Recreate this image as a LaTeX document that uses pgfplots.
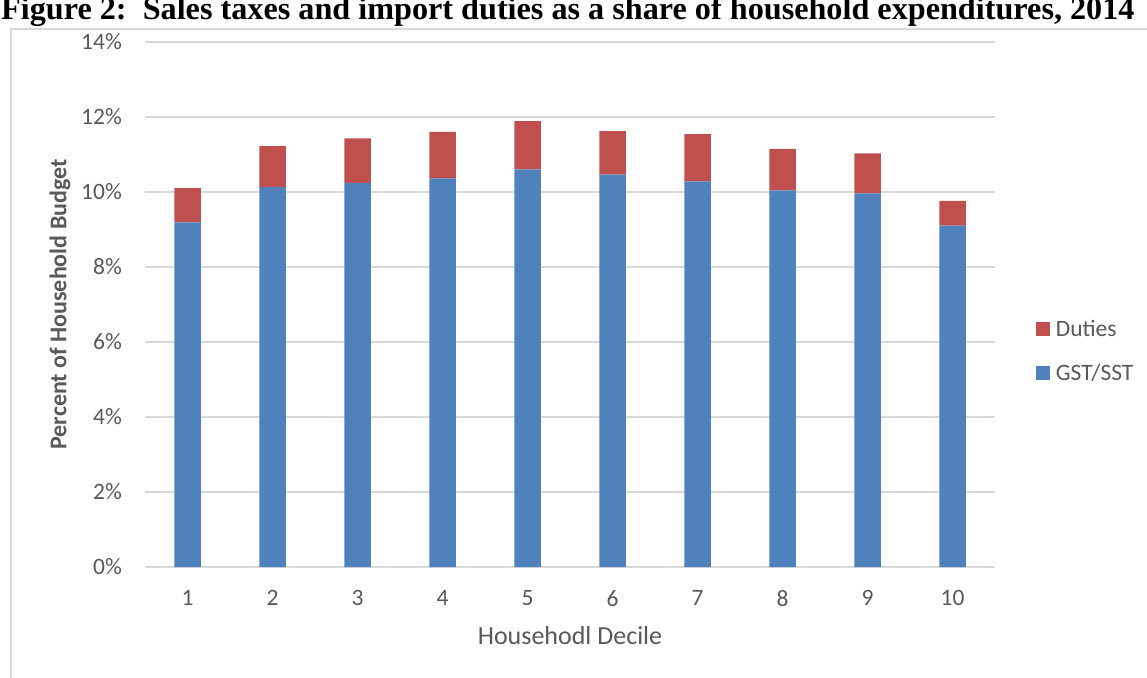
\documentclass[border=0pt]{standalone}
\usepackage{pgfplots}
\pgfplotsset{compat=1.18}
\usepackage{fontspec}
\setmainfont{Carlito}
\newfontfamily\titlefont{Liberation Serif}
\definecolor{gstblue}{HTML}{4F81BD}
\definecolor{dutyred}{HTML}{C0504D}
\definecolor{txtgray}{HTML}{595959}
\definecolor{gridgray}{HTML}{D9D9D9}
\begin{document}
\begin{tikzpicture}[x=1pt,y=1pt]
\useasboundingbox (0,0) rectangle (1147,677);
\clip (0,0) rectangle (1147,677);
\draw[gridgray, line width=1.5pt] (11,-5) -- (11,648) -- (1160,648);
\node[anchor=base west, inner sep=0pt, font=\titlefont\bfseries\fontsize{32.2}{32}\selectfont] at (1,657) {Figure 2:\ \ Sales taxes and import duties as a share of household expenditures, 2014};
\begin{axis}[
  at={(145pt,110pt)}, anchor=south west,
  scale only axis, width=850pt, height=525pt,
  xmin=0.5, xmax=10.5, ymin=0, ymax=14,
  ybar stacked, bar width=26.5pt,
  xtick={1,...,10}, ytick={0,2,...,14},
  yticklabel={\pgfmathprintnumber{\tick}\%},
  /pgf/number format/assume math mode=true,
  axis line style={draw=none},
  major tick length=0pt,
  ymajorgrids, grid style={gridgray, line width=1.3pt},
  tick label style={font=\fontsize{23.5}{23.5}\selectfont, text=txtgray},
  yticklabel style={inner sep=0pt, anchor=east, xshift=-23pt},
  xticklabel style={inner sep=0pt, anchor=north, yshift=-23.5pt},
  xlabel={Househodl Decile},
  ylabel={\bfseries Percent of Household Budget},
  xlabel style={font=\fontsize{26}{26}\selectfont, text=txtgray, at={(axis description cs:0.5,-0.131)}, anchor=center},
  ylabel style={font=\fontsize{24}{24}\selectfont, text=txtgray, at={(axis description cs:-0.1,0.5)}, anchor=center},
  reverse legend,
  legend style={at={(axis description cs:1.048,0.4705)}, anchor=north west, draw=none, fill=none,
    inner sep=0pt, outer sep=0pt, nodes={inner sep=0pt},
    font=\fontsize{23.5}{23.5}\selectfont, text=txtgray, row sep=26pt,
    /tikz/every odd column/.append style={column sep=6pt}},
  legend cell align=left,
  legend image code/.code={\fill[#1] (0pt,-7pt) rectangle (14pt,7pt);},
]
\addplot[fill=gstblue, draw=none] coordinates {
(1,9.19) (2,10.13) (3,10.24) (4,10.36) (5,10.60) (6,10.46) (7,10.28) (8,10.04) (9,9.96) (10,9.10)};
\addplot[fill=dutyred, draw=none] coordinates {
(1,0.91) (2,1.09) (3,1.19) (4,1.24) (5,1.29) (6,1.16) (7,1.26) (8,1.11) (9,1.07) (10,0.66)};
\legend{GST/SST, Duties}
\end{axis}
\end{tikzpicture}
\end{document}
